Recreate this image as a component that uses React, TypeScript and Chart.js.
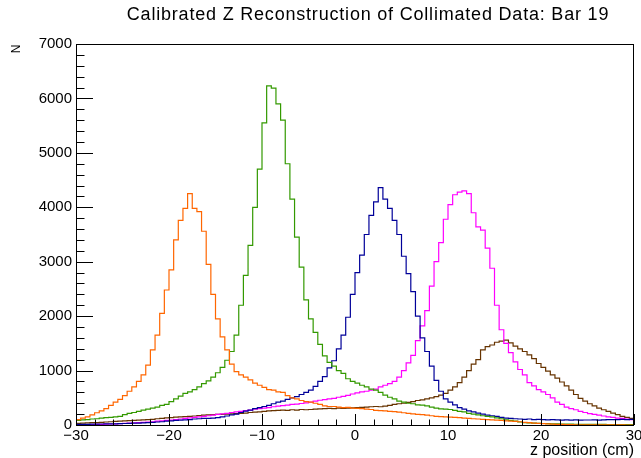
import React, { useEffect, useRef } from "react";
import { Chart, registerables } from "chart.js";

Chart.register(...registerables);

const TITLE = "Calibrated Z Reconstruction of Collimated Data: Bar 19";
const X_LABEL = "z position (cm)";
const Y_LABEL = "N";
const X_MIN = -30;
const X_MAX = 30;
const BIN_WIDTH = 0.5;
const Y_MIN = 0;
const Y_MAX = 7000;
const X_TICKS = [-30, -20, -10, 0, 10, 20, 30];
const Y_TICKS = [0, 1000, 2000, 3000, 4000, 5000, 6000, 7000];
const X_MINOR_STEP = 2;
const Y_MINOR_STEP = 200;

// 120 bins of 0.5 cm from -30 to 30
const orangeCounts = [
  100, 125, 150, 185, 225, 260, 300, 360, 420, 470,
  540, 620, 700, 800, 920, 1100, 1380, 1650, 2050, 2480,
  2850, 3400, 3760, 3980, 4250, 3980, 3920, 3560, 2950, 2400,
  1950, 1620, 1380, 1120, 980, 920, 880, 830, 770, 730,
  690, 650, 640, 610, 600, 540, 500, 480, 450, 430,
  420, 400, 380, 350, 340, 340, 330, 320, 325, 310,
  305, 300, 290, 285, 270, 265, 260, 250, 245, 235,
  225, 215, 205, 195, 190, 180, 170, 160, 155, 150,
  145, 140, 135, 125, 120, 115, 110, 105, 100, 95,
  90, 85, 75, 70, 65, 60, 50, 45, 35, 30,
  25, 20, 15, 12, 10, 8, 6, 5, 4, 3,
  3, 2, 2, 2, 1, 1, 1, 1, 0, 0,
];

const greenCounts = [
  85, 95, 100, 110, 115, 125, 135, 140, 150, 160,
  190, 215, 230, 250, 275, 290, 310, 330, 360, 380,
  430, 480, 530, 580, 610, 650, 700, 760, 810, 880,
  960, 1060, 1190, 1350, 1650, 2200, 2750, 3300, 4000, 4700,
  5550, 6230, 6190, 5900, 5600, 4800, 4150, 3450, 2900, 2300,
  1950, 1700, 1480, 1270, 1150, 1080, 1000, 950, 850, 800,
  770, 730, 700, 660, 640, 600, 550, 510, 480, 440,
  420, 400, 390, 370, 365, 350, 330, 310, 295, 290,
  285, 270, 250, 240, 215, 200, 185, 170, 160, 150,
  130, 115, 95, 85, 70, 55, 45, 40, 35, 30,
  28, 25, 22, 20, 18, 16, 15, 14, 13, 12,
  12, 11, 10, 10, 9, 9, 8, 8, 7, 7,
];

const blueCounts = [
  10, 10, 12, 15, 15, 18, 20, 20, 22, 25,
  28, 30, 35, 35, 40, 45, 50, 55, 60, 70,
  75, 85, 90, 95, 100, 110, 115, 120, 120, 125,
  135, 150, 165, 185, 200, 230, 255, 275, 300, 320,
  340, 360, 390, 420, 440, 470, 500, 520, 560, 600,
  640, 710, 800, 890, 1050, 1180, 1400, 1650, 1980, 2400,
  2800, 3120, 3500, 3850, 4100, 4360, 4150, 3980, 3760, 3500,
  3100, 2780, 2450, 2000, 1600, 1350, 1080, 820, 620, 480,
  420, 370, 320, 290, 260, 240, 220, 200, 180, 170,
  160, 140, 125, 120, 115, 110, 105, 110, 100, 105,
  100, 95, 100, 95, 90, 95, 90, 95, 90, 92,
  92, 95, 90, 95, 100, 98, 100, 105, 100, 105,
];

const magentaCounts = [
  0, 2, 5, 8, 10, 12, 15, 18, 20, 25,
  30, 35, 40, 45, 50, 55, 60, 70, 75, 85,
  90, 100, 110, 120, 130, 140, 150, 160, 170, 180,
  195, 205, 215, 230, 240, 250, 265, 275, 290, 300,
  310, 320, 335, 345, 355, 365, 380, 385, 395, 405,
  420, 440, 455, 465, 480, 490, 510, 525, 545, 570,
  590, 610, 620, 640, 660, 700, 730, 760, 800, 880,
  1000, 1140, 1280, 1550, 1820, 2100, 2550, 3000, 3350, 3780,
  4050, 4230, 4280, 4300, 4250, 3900, 3640, 3580, 3250, 2880,
  2200, 1750, 1500, 1330, 1160, 1020, 920, 780, 720, 650,
  610, 560, 500, 420, 380, 330, 300, 280, 250, 230,
  210, 195, 180, 165, 150, 140, 125, 120, 110, 100,
];

const brownCounts = [
  30, 35, 40, 45, 45, 50, 55, 60, 65, 70,
  75, 80, 85, 90, 95, 100, 105, 115, 120, 130,
  135, 145, 150, 155, 160, 165, 175, 180, 185, 190,
  195, 195, 200, 205, 210, 215, 220, 230, 235, 240,
  250, 260, 265, 270, 275, 270, 280, 275, 285, 280,
  285, 290, 295, 300, 305, 300, 310, 305, 310, 315,
  320, 325, 330, 335, 340, 335, 345, 360, 380, 390,
  400, 415, 430, 450, 460, 480, 500, 520, 550, 580,
  640, 700, 780, 880, 1000, 1120, 1200, 1380, 1440, 1470,
  1520, 1540, 1560, 1510, 1450, 1400, 1350, 1290, 1220, 1130,
  1060, 990, 920, 860, 790, 720, 640, 560, 490, 440,
  390, 350, 310, 280, 250, 220, 190, 160, 140, 120,
];

const SERIES = [
  { name: "orange", color: "#ff6600", counts: orangeCounts },
  { name: "green", color: "#339900", counts: greenCounts },
  { name: "blue", color: "#000099", counts: blueCounts },
  { name: "magenta", color: "#ff00ff", counts: magentaCounts },
  { name: "brown", color: "#663300", counts: brownCounts },
];

const FONT = '"Liberation Sans", Arial, Helvetica, sans-serif';

function histPoints(counts: number[]) {
  const pts = counts.map((c, i) => ({ x: X_MIN + i * BIN_WIDTH, y: c }));
  pts.push({ x: X_MAX, y: counts[counts.length - 1] });
  return pts;
}

function setSpacing(ctx: any, px: number) {
  if ("letterSpacing" in ctx) ctx.letterSpacing = `${px}px`;
}

const rootFrame = {
  id: "rootFrame",
  afterDatasetsDraw(chart: any) {
    const { ctx, chartArea: a, scales } = chart;
    const xs = scales.x;
    const ys = scales.y;
    ctx.save();
    ctx.strokeStyle = "#000";
    ctx.lineWidth = 1;
    ctx.strokeRect(a.left + 0.5, a.top + 0.5, a.right - a.left - 1, a.bottom - a.top);

    ctx.beginPath();
    for (let v = X_MIN; v <= X_MAX + 1e-9; v += X_MINOR_STEP) {
      const px = Math.round(xs.getPixelForValue(v)) + 0.5;
      const major = X_TICKS.includes(v);
      const len = major ? 11 : 5.5;
      ctx.moveTo(px, a.bottom);
      ctx.lineTo(px, a.bottom - len);
    }
    for (let v = Y_MIN; v <= Y_MAX + 1e-9; v += Y_MINOR_STEP) {
      const py = Math.round(ys.getPixelForValue(v)) + 0.5;
      const major = Y_TICKS.includes(v);
      const len = major ? 17 : 8.5;
      ctx.moveTo(a.left, py);
      ctx.lineTo(a.left + len, py);
    }
    ctx.stroke();

    ctx.fillStyle = "#000";
    ctx.font = `15px ${FONT}`;
    setSpacing(ctx, 0);
    ctx.textAlign = "right";
    ctx.textBaseline = "middle";
    for (const v of Y_TICKS) {
      ctx.fillText(String(v), a.left - 4, ys.getPixelForValue(v));
    }
    ctx.textAlign = "center";
    ctx.textBaseline = "top";
    for (const v of X_TICKS) {
      const label = v < 0 ? "\u2212" + Math.abs(v) : String(v);
      ctx.fillText(label, xs.getPixelForValue(v), a.bottom + 3);
    }

    ctx.font = `16px ${FONT}`;
    ctx.textAlign = "right";
    ctx.textBaseline = "alphabetic";
    ctx.fillText(X_LABEL, a.right, 455);

    ctx.save();
    ctx.translate(17, 49);
    ctx.rotate(-Math.PI / 2);
    ctx.textAlign = "center";
    ctx.textBaseline = "middle";
    ctx.font = `12px ${FONT}`;
    ctx.fillText(Y_LABEL, 0, 0);
    ctx.restore();

    ctx.font = `18px ${FONT}`;
    setSpacing(ctx, 0.8);
    ctx.textAlign = "center";
    ctx.textBaseline = "middle";
    ctx.fillText(TITLE, 368, 15);
    setSpacing(ctx, 0);
    ctx.restore();
  },
};

export default function App() {
  const canvasRef = useRef<HTMLCanvasElement | null>(null);

  useEffect(() => {
    const canvas = canvasRef.current;
    if (!canvas) return;
    const chart = new Chart(canvas, {
      type: "line",
      data: {
        datasets: SERIES.map((s) => ({
          label: s.name,
          data: histPoints(s.counts),
          borderColor: s.color,
          backgroundColor: s.color,
          borderWidth: 1.2,
          pointRadius: 0,
          stepped: "before" as const,
          fill: false,
        })),
      },
      options: {
        animation: false,
        responsive: false,
        devicePixelRatio: 1,
        layout: { padding: { left: 76, top: 44, right: 7, bottom: 33 } },
        plugins: {
          legend: { display: false },
          tooltip: { enabled: false },
          title: { display: false },
        },
        scales: {
          x: { type: "linear", min: X_MIN, max: X_MAX, display: false },
          y: { type: "linear", min: Y_MIN, max: Y_MAX, display: false },
        },
      },
      plugins: [rootFrame],
    });
    return () => chart.destroy();
  }, []);

  return (
    <div style={{ position: "fixed", left: 0, top: 0, width: 641, height: 458, background: "#fff" }}>
      <canvas ref={canvasRef} width={641} height={458} style={{ display: "block" }} />
    </div>
  );
}
